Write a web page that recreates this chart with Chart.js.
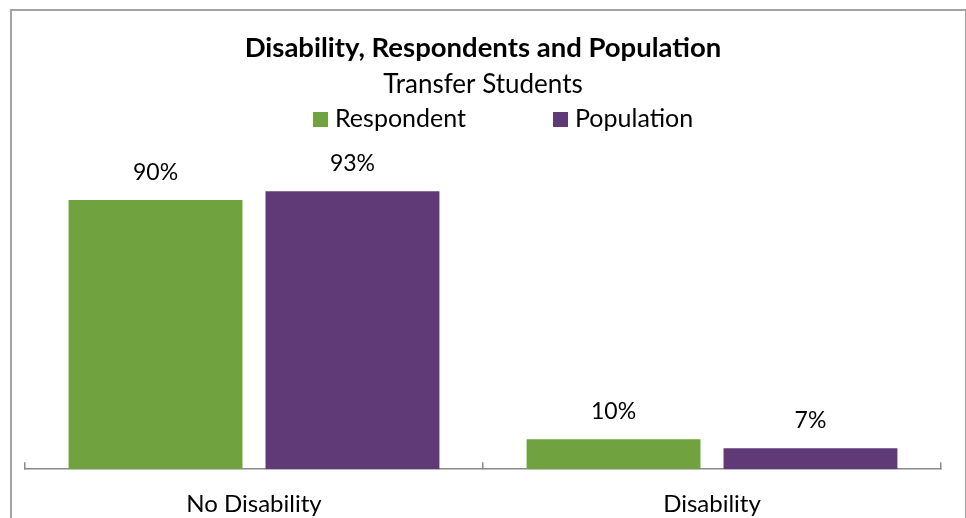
<!DOCTYPE html>
<html lang="en">

<head>
    <meta charset="UTF-8">
    <title>Disability, Respondents and Population</title>
    <script src="https://cdn.jsdelivr.net/npm/chart.js"></script>
    <style>
        html, body { margin: 0; padding: 0; background: #fff; overflow: hidden; }
        body { width: 966px; height: 518px; position: relative; font-family: Lato, sans-serif; }
        /* outer chart frame, bottom edge runs off the page */
        .frame {
            position: absolute; left: 10px; top: 9px; width: 953px; height: 560px;
            border: 2px solid #a3a3a3;
        }
        /* canvas is taller than the page so the category labels sit low */
        .chart-box { position: absolute; left: 0; top: 0; width: 966px; height: 547px; }
        .legend { position: absolute; top: 102px; left: 0; width: 966px; height: 30px; }
        .legend span { position: absolute; top: 0; font-size: 25px; line-height: 30px; color: #000; white-space: nowrap; }
        .legend i { position: absolute; top: 10px; width: 15px; height: 15px; }
    </style>
</head>

<body>
    <div class="frame"></div>
    <div class="chart-box">
        <canvas id="myChart" width="966" height="547"></canvas>
    </div>
    <div class="legend" id="legend"></div>

    <script>
        // categories and series
        const categories = ['No Disability', 'Disability'];
        const respondent = [90, 10];
        const population = [93, 7];
        const seriesNames = ['Respondent', 'Population'];
        const seriesColors = ['#70a33f', '#603a76'];

        // legend drawn as html (items are spread far apart)
        const legendPos = [313, 553];
        const legendEl = document.getElementById('legend');
        seriesNames.forEach((name, i) => {
            const box = document.createElement('i');
            box.style.left = legendPos[i] + 'px';
            box.style.background = seriesColors[i];
            const txt = document.createElement('span');
            txt.style.left = (legendPos[i] + 22) + 'px';
            txt.textContent = name;
            legendEl.appendChild(box);
            legendEl.appendChild(txt);
        });

        // value labels above each bar
        const valueLabels = {
            id: 'valueLabels',
            afterDatasetsDraw(chart) {
                const c = chart.ctx;
                c.save();
                c.font = '23px Lato';
                c.fillStyle = '#000';
                c.textAlign = 'center';
                c.textBaseline = 'middle';
                chart.data.datasets.forEach((ds, i) => {
                    chart.getDatasetMeta(i).data.forEach((bar, j) => {
                        c.fillText(ds.data[j] + '%', bar.x, bar.y - 28);
                    });
                });
                c.restore();
            }
        };

        const ctx = document.getElementById('myChart').getContext('2d');
        const myChart = new Chart(ctx, {
            type: 'bar',
            data: {
                labels: categories,
                datasets: [
                    { label: seriesNames[0], data: respondent, backgroundColor: seriesColors[0] },
                    { label: seriesNames[1], data: population, backgroundColor: seriesColors[1] }
                ]
            },
            options: {
                responsive: false,
                animation: false,
                categoryPercentage: 0.86,
                barPercentage: 0.883,
                layout: { padding: { left: 25, right: 25, top: 0, bottom: 0 } },
                plugins: {
                    legend: { display: false },
                    tooltip: { enabled: false },
                    title: {
                        display: true,
                        text: 'Disability, Respondents and Population',
                        color: '#000',
                        font: { family: 'Lato', size: 27.5, weight: 'bold' },
                        padding: { top: 32, bottom: 2 }
                    },
                    subtitle: {
                        display: true,
                        text: 'Transfer Students',
                        color: '#000',
                        font: { family: 'Lato', size: 26 },
                        padding: { top: 2, bottom: 70 }
                    }
                },
                scales: {
                    x: {
                        offset: true,
                        grid: {
                            offset: true,
                            drawOnChartArea: false,
                            drawTicks: true,
                            tickLength: -7,
                            color: '#8a8a8a',
                            lineWidth: 1.5
                        },
                        border: { display: true, color: '#8a8a8a', width: 1.5 },
                        ticks: {
                            color: '#000',
                            padding: 28,
                            font: { family: 'Lato', size: 24 }
                        }
                    },
                    y: {
                        display: false,
                        min: 0,
                        max: 100
                    }
                }
            },
            plugins: [valueLabels]
        });
    </script>
</body>

</html>
